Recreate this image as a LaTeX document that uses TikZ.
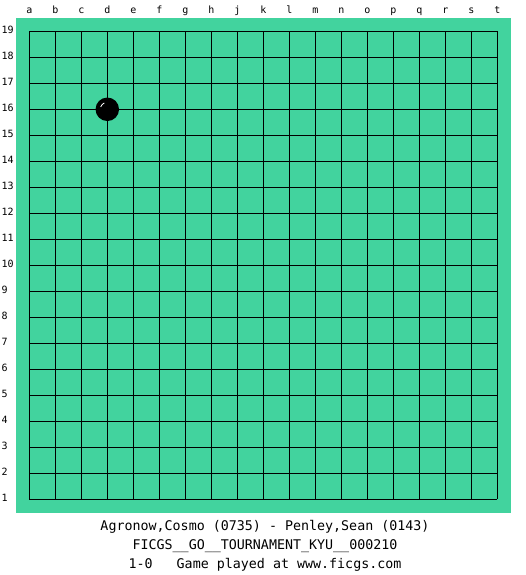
\documentclass[tikz,border=0pt]{standalone}
\usepackage{fontspec}
\setmonofont{DejaVu Sans Mono}
\definecolor{board}{RGB}{66,211,158}
\begin{document}
\begin{tikzpicture}[x=1pt,y=-1pt,
  lab/.style={font=\fontsize{10}{12}\selectfont\ttfamily, inner sep=0pt},
  captext/.style={font=\fontsize{13.33}{16}\selectfont\ttfamily, inner sep=0pt, anchor=base},
  gridline/.style={line width=0.9pt, black},
  stone/.style={circle, fill=black, minimum size=23.5pt, inner sep=0pt}]
\useasboundingbox (0,0) rectangle (525,575);
\fill[white] (0,0) rectangle (525,575);
\fill[board] (16,18) rectangle (511,513);
\foreach \i in {0,...,18} {
  \draw[gridline] ({29.3+26*\i},31.3) -- ({29.3+26*\i},499.3);
  \draw[gridline] (29.3,{31.3+26*\i}) -- (497.3,{31.3+26*\i});
}
\foreach \l [count=\i from 0] in {a,b,c,d,e,f,g,h,j,k,l,m,n,o,p,q,r,s,t}
  \node[lab, anchor=base] (col\l) at ({29.3+26*\i},14) {\l};
\foreach \i in {1,...,19}
  \node[lab, anchor=base west] (row\i) at (1.5,{31.3+26*(19-\i)+2.5}) {\i};
\node[stone] (d16) at (107.3,109.3) {};
\draw[white, line width=0.8pt] ([shift={(-6.6pt,2.4pt)}]d16.center) arc[start angle=160, end angle=115, radius=7pt];
\node[captext] (players) at (265,530) {Agronow,Cosmo (0735) - Penley,Sean (0143)};
\node[captext] (event) at (265,549) {FICGS\_\_GO\_\_TOURNAMENT\_KYU\_\_000210};
\node[captext] (result) at (265,568) {1-0\ \ \ Game played at www.ficgs.com};
\end{tikzpicture}
\end{document}
